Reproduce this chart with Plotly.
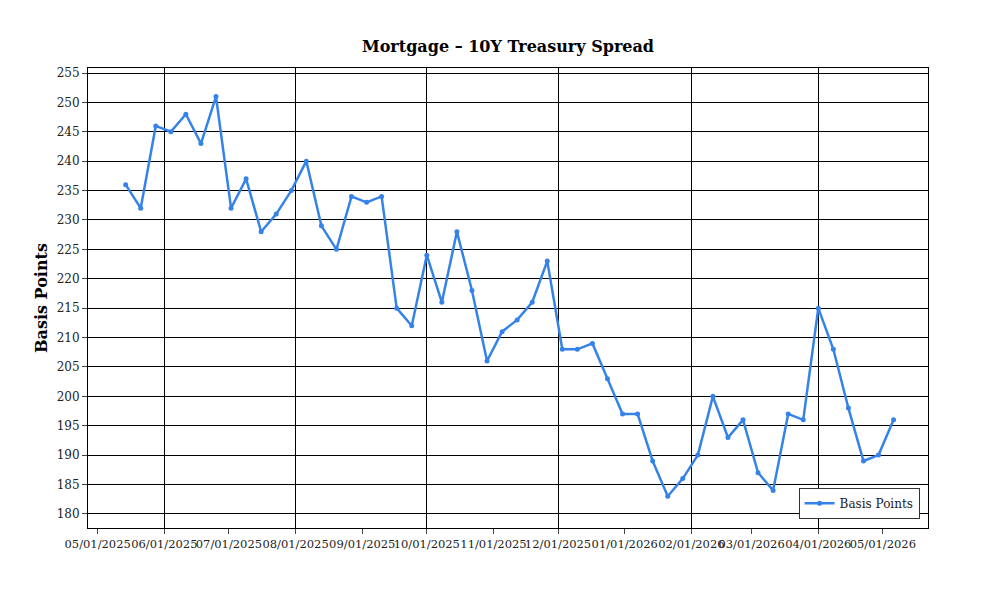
import plotly.graph_objects as go
import pandas as pd

dates = pd.date_range("2025-05-14", periods=52, freq="7D")
values = [236,232,246,245,248,243,251,232,237,228,231,235,240,229,225,234,233,234,215,212,
          224,216,228,218,206,211,213,216,223,208,208,209,203,197,197,189,183,186,190,200,
          193,196,187,184,197,196,215,208,198,189,190,196]
tick_dates = pd.date_range("2025-05-01", "2026-05-01", freq="MS")
tick_labels = [d.strftime("%m/%d/%Y") for d in tick_dates]

fig = go.Figure(go.Scatter(x=dates, y=values, mode="lines+markers", name="Basis Points",
                           line=dict(color="#3583e8", width=2.5), marker=dict(size=5, color="#3583e8")))
font = "DejaVu Serif"
fig.update_layout(
    width=1000, height=600, plot_bgcolor="white", paper_bgcolor="white",
    margin=dict(l=80, r=80, t=60, b=80),
    font=dict(family=font, size=12, color="#222"),
    title=dict(text="<b>Mortgage – 10Y Treasury Spread</b>", x=0.5, y=0.945, font=dict(size=16, family=font, color="black")),
    showlegend=True,
    legend=dict(x=0.99, y=0.02, xanchor="right", yanchor="bottom", bordercolor="#333", borderwidth=1,
                bgcolor="white", font=dict(size=12)),
)
fig.update_xaxes(range=["2025-04-26 12:00", "2026-05-22"], tickvals=tick_dates, ticktext=tick_labels,
                 showgrid=False, showline=True, mirror=True, linecolor="black", ticks="outside",
                 tickangle=0, tickfont=dict(size=11.5), automargin=False,
                 minor=dict(tick0="2025-06-01", dtick="M2", showgrid=True, gridcolor="black", gridwidth=1))
fig.update_yaxes(range=[177.6, 255.85], dtick=5, tick0=180, showgrid=True, gridcolor="black", gridwidth=1,
                 showline=True, mirror=True, linecolor="black", ticks="outside", automargin=False,
                 title=dict(text="<b>Basis Points</b>", font=dict(size=16, family=font, color="black"), standoff=5))
fig.write_html("out.html")
